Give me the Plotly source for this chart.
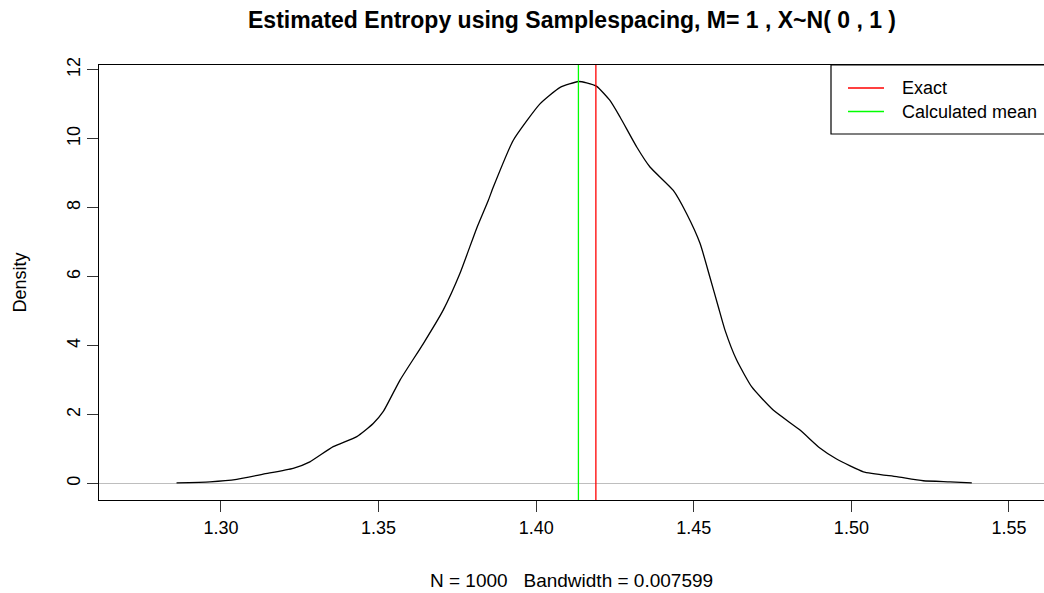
import plotly.graph_objects as go

# Density curve
x_vals = [1.2859, 1.2965, 1.3050, 1.3134, 1.3229, 1.3282, 1.3356, 1.3431, 1.3483, 1.3515,
          1.3568, 1.3642, 1.3705, 1.3758, 1.3811, 1.3848, 1.3864, 1.3927, 1.4012, 1.4076,
          1.4134, 1.4160, 1.4192, 1.4234, 1.4266, 1.4319, 1.4361, 1.4435, 1.4477, 1.4520,
          1.4551, 1.4578, 1.4599, 1.4636, 1.4684, 1.4752, 1.4837, 1.4900, 1.4953, 1.5038,
          1.5144, 1.5228, 1.5313, 1.5382]
density = [0.02, 0.05, 0.12, 0.27, 0.44, 0.63, 1.07, 1.36, 1.74, 2.09,
           3.00, 4.06, 5.03, 6.09, 7.40, 8.21, 8.60, 9.95, 11.01, 11.49,
           11.66, 11.62, 11.52, 11.11, 10.63, 9.76, 9.18, 8.50, 7.83, 6.96,
           5.99, 5.12, 4.45, 3.58, 2.80, 2.13, 1.55, 1.03, 0.71, 0.34,
           0.20, 0.08, 0.05, 0.02]

exact_value = 1.418939
calculated_mean = 1.4134

x_ticks = [1.30, 1.35, 1.40, 1.45, 1.50, 1.55]
x_tick_labels = ["1.30", "1.35", "1.40", "1.45", "1.50", "1.55"]
y_ticks = [0, 2, 4, 6, 8, 10, 12]
y_tick_labels = ["0", "2", "4", "6", "8", "10", "12"]

legend_names = ["Exact", "Calculated mean"]
legend_colors = ["#ff0000", "#00ff00"]

title_text = "Estimated Entropy using Samplespacing, M= 1 , X~N( 0 , 1 )"
xlabel_text = "N = 1000\u00a0\u00a0\u00a0Bandwidth = 0.007599"
ylabel_text = "Density"

FONT = "Liberation Sans, Arial, sans-serif"

fig = go.Figure()
fig.add_trace(go.Scatter(
    x=x_vals, y=density, mode="lines",
    line=dict(color="black", width=1.3, shape="spline", smoothing=0.5),
    showlegend=False, hoverinfo="skip"))

# vertical lines (abline)
for val, col in [(exact_value, legend_colors[0]), (calculated_mean, legend_colors[1])]:
    fig.add_shape(type="line", xref="x", yref="paper", x0=val, x1=val, y0=0, y1=1,
                  line=dict(color=col, width=1.3))

# manual legend box
fig.add_shape(type="rect", xref="paper", yref="paper",
              x0=(831 - 99) / 945, x1=1.2, y0=1.0, y1=(500 - 134) / 435,
              line=dict(color="black", width=1.2), fillcolor="white", layer="above")
for i, (name, col) in enumerate(zip(legend_names, legend_colors)):
    ypix = 88 + i * 23.5
    yp = (500 - ypix) / 435
    fig.add_shape(type="line", xref="paper", yref="paper",
                  x0=(848 - 99) / 945, x1=(884 - 99) / 945, y0=yp, y1=yp,
                  line=dict(color=col, width=1.5), layer="above")
    fig.add_annotation(xref="paper", yref="paper", x=(900 - 99) / 945, y=yp,
                       text=name, showarrow=False, xanchor="left", yanchor="middle",
                       font=dict(family=FONT, size=18, color="black"))

# axis labels
fig.add_annotation(xref="paper", yref="paper", x=(571 - 99) / 945, y=(500 - 580) / 435,
                   text=xlabel_text, showarrow=False, xanchor="center", yanchor="middle",
                   font=dict(family=FONT, size=19, color="black"))
fig.add_annotation(xref="paper", yref="paper", x=(19 - 99) / 945, y=0.5,
                   text=ylabel_text, showarrow=False, textangle=-90,
                   xanchor="center", yanchor="middle",
                   font=dict(family=FONT, size=18, color="black"))

fig.update_layout(
    width=1044, height=593,
    margin=dict(l=99, r=0, t=65, b=93),
    paper_bgcolor="white", plot_bgcolor="white",
    title=dict(text=title_text, x=572 / 1044, xanchor="center",
               y=1 - 20 / 593, yanchor="middle",
               font=dict(family=FONT, size=23, color="black", weight="bold")),
    font=dict(family=FONT, size=18, color="black"),
    xaxis=dict(range=[1.2613, 1.2613 + 945 / 3152], tickvals=x_ticks, ticktext=x_tick_labels,
               showgrid=False, zeroline=False, showline=True, mirror=True,
               linecolor="black", linewidth=1.3, ticks="outside", ticklen=11,
               tickwidth=1.3, tickcolor="#333", tickfont=dict(size=18)),
    yaxis=dict(range=[-0.478, 12.139], tickvals=y_ticks, ticktext=y_tick_labels,
               showgrid=False, zeroline=True, zerolinecolor="#bebebe", zerolinewidth=1.3,
               showline=True, mirror=False, linecolor="black", linewidth=1.3,
               ticks="outside", ticklen=11, tickwidth=1.3, tickcolor="#333",
               tickangle=-90, tickfont=dict(size=18)),
)

fig.write_html("out.html")
